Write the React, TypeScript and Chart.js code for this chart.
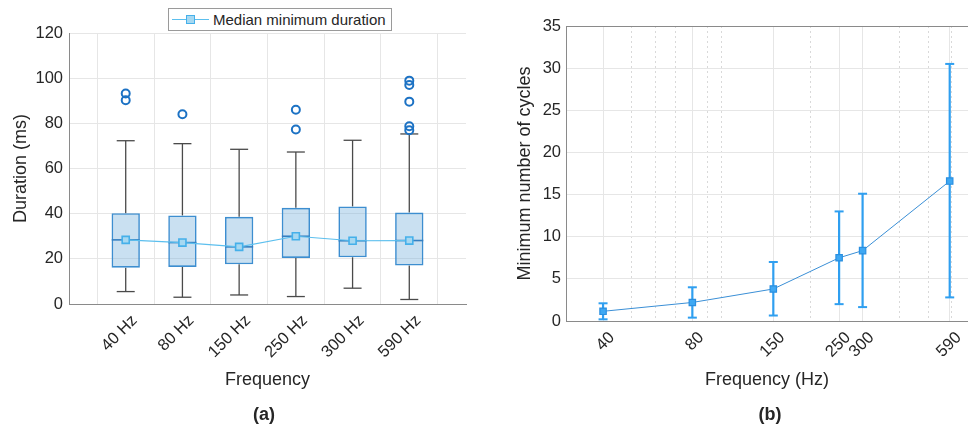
import React, { useEffect, useRef } from 'react';
import { Chart, registerables } from 'chart.js';

Chart.register(...registerables);

// ---------- Panel (a) data ----------
const categories = ['40 Hz', '80 Hz', '150 Hz', '250 Hz', '300 Hz', '590 Hz'];
const whiskerLow = [5.5, 3.0, 4.0, 3.3, 7.0, 2.0];
const q1 = [16.1, 16.4, 17.6, 20.4, 20.7, 17.0];
const medians = [28.4, 27.2, 25.3, 30.0, 28.0, 28.1];
const q3 = [40.2, 39.2, 38.6, 42.6, 43.2, 40.5];
const whiskerHigh = [72.3, 71.0, 68.5, 67.3, 72.5, 75.3];
const outliers = [[93.2, 90.2], [84.0], [], [86.0, 77.3], [], [98.9, 97.0, 89.6, 78.7, 76.9]];
const durationTicks = [0, 20, 40, 60, 80, 100, 120];

// ---------- Panel (b) data ----------
const freqHz = [40, 80, 150, 250, 300, 590];
const cyclesMean = [1.15, 2.2, 3.8, 7.5, 8.35, 16.6];
const cyclesLow = [0.2, 0.4, 0.65, 2.0, 1.65, 2.8];
const cyclesHigh = [2.1, 4.0, 7.0, 13.0, 15.1, 30.5];
const freqMinorGrid = [50, 60, 70, 90, 100, 200, 400, 500, 600];
const cycleTicks = [0, 5, 10, 15, 20, 25, 30, 35];

const FONT = "'Liberation Sans', Arial, Helvetica, sans-serif";
const TEXT = '#262626';
const AXIS = '#8a8a8a';
const GRID = '#e6e6e6';

const TICK_FONT = { family: FONT, size: 16.5 };
const TITLE_FONT = { family: FONT, size: 18 };

function LeftChart() {
  const ref = useRef<HTMLCanvasElement>(null);
  useEffect(() => {
    const pos = categories.map((_, i) => i + 1);
    const WHISK = '#4a4a4a';
    const whiskerSets: any[] = pos.flatMap((x, i) => [
      { type: 'line', data: [{ x, y: whiskerLow[i] }, { x, y: q1[i] }], borderColor: WHISK, borderWidth: 1.3, pointRadius: 0, order: 7 },
      { type: 'line', data: [{ x, y: q3[i] }, { x, y: whiskerHigh[i] }], borderColor: WHISK, borderWidth: 1.3, pointRadius: 0, order: 7 },
    ]);
    const chart = new Chart(ref.current as HTMLCanvasElement, {
      type: 'bar',
      data: {
        datasets: [
          ...whiskerSets,
          {
            type: 'scatter',
            data: pos.flatMap((x, i) => [{ x, y: whiskerLow[i] }, { x, y: whiskerHigh[i] }]),
            pointStyle: 'line', pointRadius: 9, borderColor: WHISK, borderWidth: 1.3, order: 6,
          },
          {
            type: 'bar',
            data: pos.map((x, i) => ({ x, y: [q1[i], q3[i]] })),
            backgroundColor: 'rgba(126,182,222,0.42)', borderColor: '#3d8ed0', borderWidth: 1.6,
            borderSkipped: false, barPercentage: 0.5, categoryPercentage: 1, order: 5,
          },
          {
            type: 'scatter',
            data: pos.map((x, i) => ({ x, y: medians[i] })),
            pointStyle: 'line', pointRadius: 14, borderColor: '#3580c2', borderWidth: 1.6, order: 4,
          },
          {
            type: 'scatter',
            data: pos.flatMap((x, i) => outliers[i].map((y) => ({ x, y }))),
            pointStyle: 'circle', pointRadius: 4, borderColor: '#1c72c4', backgroundColor: 'rgba(0,0,0,0)', borderWidth: 2, order: 3,
          },
          {
            type: 'line', label: 'Median minimum duration',
            data: pos.map((x, i) => ({ x, y: medians[i] })),
            borderColor: '#5cbfee', borderWidth: 1.2, pointStyle: 'rect', pointRadius: 5,
            pointBackgroundColor: '#a6d8f1', pointBorderColor: '#45b0ea', pointBorderWidth: 1.6, order: 1,
          },
        ] as any,
      },
      options: {
        responsive: false,
        animation: false,
        devicePixelRatio: 1,
        layout: { autoPadding: false, padding: { left: 0, right: 18, top: 33, bottom: 0 } },
        plugins: { legend: { display: false }, tooltip: { enabled: false } },
        scales: {
          x: {
            type: 'linear', min: 0, max: 7, offset: false,
            afterBuildTicks: (s: any) => { s.ticks = pos.map((v) => ({ value: v })); },
            afterFit: (s: any) => { s.height = 128; s.paddingLeft = 0; s.paddingRight = 0; },
            ticks: {
              autoSkip: false, minRotation: 45, maxRotation: 45, padding: 7, labelOffset: 9,
              color: TEXT, font: TICK_FONT,
              callback: (v: any) => categories[Number(v) - 1] ?? '',
            },
            grid: { color: GRID, drawTicks: false, lineWidth: 1 },
            border: { color: AXIS, width: 1 },
            title: { display: true, text: 'Frequency', color: TEXT, font: TITLE_FONT, padding: { top: 0, bottom: 41 } },
          },
          y: {
            type: 'linear', min: 0, max: 120,
            afterBuildTicks: (s: any) => { s.ticks = durationTicks.map((v) => ({ value: v })); },
            afterFit: (s: any) => { s.width = 69; },
            ticks: { color: TEXT, font: TICK_FONT, padding: 6 },
            grid: { color: GRID, drawTicks: false },
            border: { color: AXIS, width: 1 },
            title: { display: true, text: 'Duration (ms)', color: TEXT, font: TITLE_FONT, padding: { top: 10, bottom: 0 } },
          },
        },
      } as any,
    });
    return () => chart.destroy();
  }, []);
  return <canvas ref={ref} width={484} height={432} style={{ position: 'absolute', left: 0, top: 0 }} />;
}

function RightChart() {
  const ref = useRef<HTMLCanvasElement>(null);
  useEffect(() => {
    const COL = '#2f9ff0';
    const allX = [...freqHz, ...freqMinorGrid].sort((a, b) => a - b);
    const isMajor = (v: number) => freqHz.includes(v);
    const errSets: any[] = freqHz.map((x, i) => ({
      type: 'line', data: [{ x, y: cyclesLow[i] }, { x, y: cyclesHigh[i] }],
      borderColor: COL, borderWidth: 2.2, pointRadius: 0, order: 5,
    }));
    const chart = new Chart(ref.current as HTMLCanvasElement, {
      type: 'line',
      data: {
        datasets: [
          ...errSets,
          {
            type: 'scatter',
            data: freqHz.flatMap((x, i) => [{ x, y: cyclesLow[i] }, { x, y: cyclesHigh[i] }]),
            pointStyle: 'line', pointRadius: 4.5, borderColor: COL, borderWidth: 2, order: 4,
          },
          {
            type: 'line', label: 'Minimum number of cycles',
            data: freqHz.map((x, i) => ({ x, y: cyclesMean[i] })),
            borderColor: '#3a8fd6', borderWidth: 1, pointStyle: 'rect', pointRadius: 4.5,
            pointBackgroundColor: '#3ea8f3', pointBorderColor: '#2a8fe0', pointBorderWidth: 1.2, order: 1,
          },
        ] as any,
      },
      options: {
        responsive: false,
        animation: false,
        devicePixelRatio: 1,
        layout: { autoPadding: false, padding: { left: 0, right: 0, top: 26, bottom: 0 } },
        plugins: { legend: { display: false }, tooltip: { enabled: false } },
        scales: {
          x: {
            type: 'logarithmic', min: 30, max: 680, offset: false, bounds: 'data',
            afterBuildTicks: (s: any) => { s.ticks = allX.map((v) => ({ value: v, major: isMajor(v) })); },
            afterFit: (s: any) => { s.height = 111; s.paddingLeft = 0; s.paddingRight = 0; },
            ticks: {
              autoSkip: false, minRotation: 45, maxRotation: 45, padding: 7, labelOffset: 9,
              color: TEXT, font: TICK_FONT,
              callback: (v: any) => (isMajor(Number(v)) ? String(v) : ''),
            },
            grid: {
              drawTicks: false, lineWidth: 1,
              color: (c: any) => (c.tick && !isMajor(c.tick.value) ? '#d9d9d9' : GRID),
            },
            border: {
              color: AXIS, width: 1,
              dash: (c: any) => (c.tick && !isMajor(c.tick.value) ? [2, 3] : []),
            },
            title: { display: true, text: 'Frequency (Hz)', color: TEXT, font: TITLE_FONT, padding: { top: 0, bottom: 41 } },
          },
          x2: {
            type: 'logarithmic', position: 'top', min: 30, max: 680, bounds: 'data',
            afterFit: (s: any) => { s.height = 0; s.paddingLeft = 0; s.paddingRight = 0; },
            ticks: { display: false },
            grid: { drawOnChartArea: false, drawTicks: false },
            border: { color: AXIS, width: 1 },
          },
          y: {
            type: 'linear', min: 0, max: 35,
            afterBuildTicks: (s: any) => { s.ticks = cycleTicks.map((v) => ({ value: v })); },
            afterFit: (s: any) => { s.width = 82; },
            ticks: { color: TEXT, font: TICK_FONT, padding: 5 },
            grid: { color: GRID, drawTicks: false },
            border: { color: AXIS, width: 1 },
            title: { display: true, text: 'Minimum number of cycles', color: TEXT, font: TITLE_FONT, padding: { top: 30, bottom: 0 } },
          },
        },
      } as any,
    });
    return () => chart.destroy();
  }, []);
  return <canvas ref={ref} width={484} height={432} style={{ position: 'absolute', left: 484, top: 0 }} />;
}

export default function App() {
  return (
    <div style={{ position: 'absolute', left: 0, top: 0, width: 968, height: 432, background: '#fff', overflow: 'hidden', fontFamily: FONT }}>
      <LeftChart />
      <RightChart />
      {/* legend of panel (a) */}
      <div style={{
        position: 'absolute', left: 168, top: 8, width: 222, height: 21, border: '1px solid #9a9a9a', background: '#fff',
        boxSizing: 'content-box', display: 'flex', alignItems: 'center',
      }}>
        <div style={{ position: 'relative', width: 40, height: 21, marginLeft: 3 }}>
          <div style={{ position: 'absolute', left: 0, top: 10, width: 37, height: 1.2, background: '#5cbfee' }} />
          <div style={{ position: 'absolute', left: 14, top: 6, width: 7, height: 7, background: '#a6d8f1', border: '1.5px solid #45b0ea' }} />
        </div>
        <span style={{ fontSize: 15, color: TEXT, whiteSpace: 'nowrap', marginLeft: 1 }}>Median minimum duration</span>
      </div>
      <div style={{ position: 'absolute', left: 232, top: 404, width: 64, textAlign: 'center', fontSize: 18, fontWeight: 'bold', color: TEXT }}>(a)</div>
      <div style={{ position: 'absolute', left: 738, top: 404, width: 64, textAlign: 'center', fontSize: 18, fontWeight: 'bold', color: TEXT }}>(b)</div>
    </div>
  );
}
